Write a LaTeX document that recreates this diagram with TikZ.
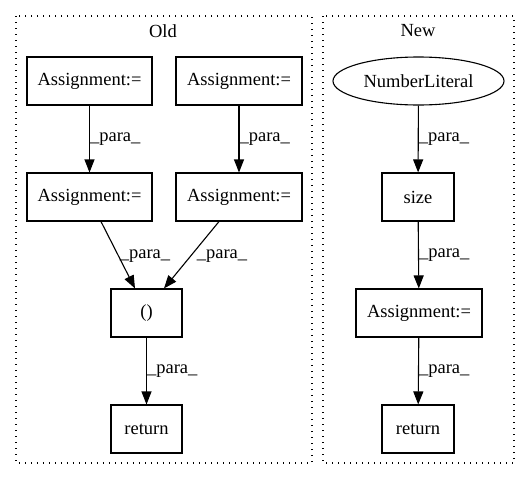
\documentclass[tikz,border=0pt]{standalone}
\usepackage{fontspec}
\setmainfont{Liberation Serif}
\usetikzlibrary{arrows.meta,shapes.geometric}
\begin{document}
\begin{tikzpicture}[x=1pt,y=-1pt,
  every node/.style={font=\fontsize{18.5}{20}\selectfont},
  box/.style={draw,line width=1.1pt,minimum height=48pt,inner sep=0pt},
  oval/.style={draw,ellipse,line width=1.1pt,minimum height=48pt,minimum width=171pt,inner sep=0pt},
  cluster/.style={draw,line width=1.3pt,dash pattern=on 1.4pt off 4.6pt},
  edge/.style={line width=1.1pt,-{Triangle[length=13pt,width=10pt]}},
  lab/.style={font=\fontsize{18.5}{20}\selectfont,inner sep=0pt}]
\useasboundingbox (0,0) rectangle (531,480);
% clusters
\draw[cluster] (16,16) rectangle (312,463);
\draw[cluster] (323,16) rectangle (514,463);
\node (tOld) at (163,31) {Old};
\node (tNew) at (418,31) {New};
% Old
\node[box,minimum width=125pt] (a1) at (89.5,81) {Assignment:=};
\node[box,minimum width=126pt] (a2) at (239,81) {Assignment:=};
\node[box,minimum width=125pt] (a3) at (89.5,197) {Assignment:=};
\node[box,minimum width=126pt] (a4) at (239,197) {Assignment:=};
\node[box,minimum width=71pt] (par) at (146.5,313) {()};
\node[box,minimum width=71pt] (ret1) at (146.5,429) {return};
% New
\node[oval] (num) at (418.5,81) {NumberLiteral};
\node[box,minimum width=72pt] (size) at (418,197) {size};
\node[box,minimum width=126pt] (a5) at (419,313) {Assignment:=};
\node[box,minimum width=72pt] (ret2) at (418,429) {return};
% edge end points on the node borders
\coordinate (s3) at ([xshift=11.5pt]a3.south);
\coordinate (e3) at ([xshift=-11.5pt]par.north);
\coordinate (s4) at ([xshift=-20pt]a4.south);
\coordinate (e4) at ([xshift=17.5pt]par.north);
% edges
\draw[edge] (a1) -- (a3) node[lab,pos=0.5,right=0pt] {\_para\_};
\draw[edge] (a2) -- (a4) node[lab,pos=0.5,right=0pt] {\_para\_};
\draw[edge] (s3) -- (e3);
\node[lab] (l3) at (145,256) {\_para\_};
\draw[edge] (s4) -- (e4);
\node[lab] (l4) at (222,256) {\_para\_};
\draw[edge] (par) -- (ret1) node[lab,pos=0.5,right=0pt] {\_para\_};
\draw[edge] (num) -- (size) node[lab,pos=0.5,right=0pt] {\_para\_};
\draw[edge] (size) -- (a5) node[lab,pos=0.5,right=0pt] {\_para\_};
\draw[edge] (a5) -- (ret2) node[lab,pos=0.5,right=0pt] {\_para\_};
\end{tikzpicture}
\end{document}
